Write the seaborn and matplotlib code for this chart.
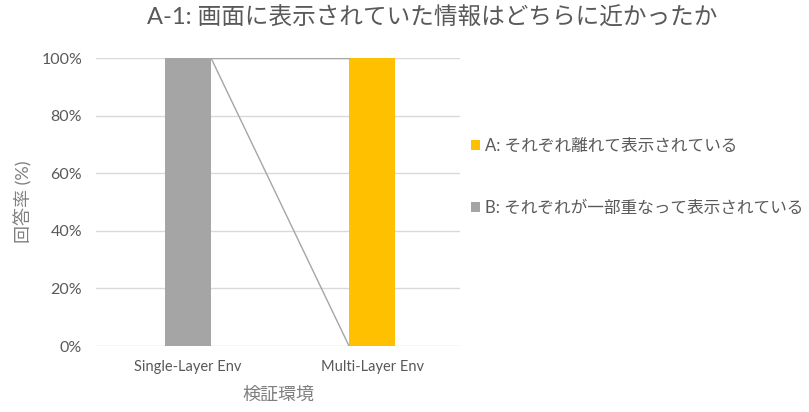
import matplotlib
matplotlib.use("Agg")
import matplotlib.pyplot as plt
import seaborn as sns
import pandas as pd
from matplotlib.patches import Patch

categories = ["Single-Layer Env", "Multi-Layer Env"]
series_a = [0, 100]   # A: それぞれ離れて表示されている
series_b = [100, 0]   # B: それぞれが一部重なって表示されている
label_a = "A: それぞれ離れて表示されている"
label_b = "B: それぞれが一部重なって表示されている"
yticks = [0, 20, 40, 60, 80, 100]

sns.set_theme(style="white")
plt.rcParams["font.family"] = ["Lato", "Noto Sans CJK JP", "DejaVu Sans"]

color_a = "#FFC000"
color_b = "#A5A5A5"
text_c = "#595959"

df = pd.DataFrame({"env": categories, "A": series_a, "B": series_b})
df["total"] = df["A"] + df["B"]

fig = plt.figure(figsize=(8.09, 4.12), dpi=100)
ax = fig.add_axes([96 / 809, (412 - 346) / 412, 364 / 809, 288 / 412])

bar_w = 0.25
# stacked: total in A colour, then B (bottom segment) drawn over it
sns.barplot(data=df, x="env", y="total", color=color_a, width=bar_w,
            saturation=1, ax=ax, linewidth=0, zorder=3)
sns.barplot(data=df, x="env", y="B", color=color_b, width=bar_w,
            saturation=1, ax=ax, linewidth=0, zorder=3)

# series lines joining the top of each segment between neighbouring bars
cum_b = list(df["B"])
cum_ab = list(df["total"])
for i in range(len(categories) - 1):
    xs = [i + bar_w / 2, i + 1 - bar_w / 2]
    ax.plot(xs, [cum_b[i], cum_b[i + 1]], color="#A5A5A5", lw=1.0, zorder=4)
    ax.plot(xs, [cum_ab[i], cum_ab[i + 1]], color="#A5A5A5", lw=1.0, zorder=4)

ax.set_xlim(-0.5, 1.478)
ax.set_ylim(0, 100)
ax.set_yticks(yticks)
ax.set_yticklabels([f"{v}%" for v in yticks])
ax.yaxis.grid(True, color="#D9D9D9", lw=1.0, zorder=0)
ax.set_axisbelow(True)
for s in ax.spines.values():
    s.set_visible(False)
ax.tick_params(axis="both", length=0, colors=text_c)
ax.tick_params(axis="y", pad=10, labelsize=11.5)
ax.tick_params(axis="x", pad=10, labelsize=10.5)

ax.set_xlabel("検証環境", color="#7F7F7F", fontsize=13, labelpad=9)
ax.set_ylabel("回答率 (%)", color="#7F7F7F", fontsize=13, labelpad=6)

fig.text(432 / 809, 1 - 18 / 412, "A-1: 画面に表示されていた情報はどちらに近かったか",
         ha="center", va="center", fontsize=17, color=text_c)

handles = [Patch(facecolor=color_a, edgecolor="none"),
           Patch(facecolor=color_b, edgecolor="none")]
fig.legend(handles, [label_a, label_b], loc="center left",
           bbox_to_anchor=(456 / 809, 1 - 177 / 412), frameon=False,
           fontsize=12, labelcolor=text_c, handlelength=0.55, handleheight=0.55,
           handletextpad=0.3, labelspacing=2.75)

fig.savefig("out.png", dpi=100)
